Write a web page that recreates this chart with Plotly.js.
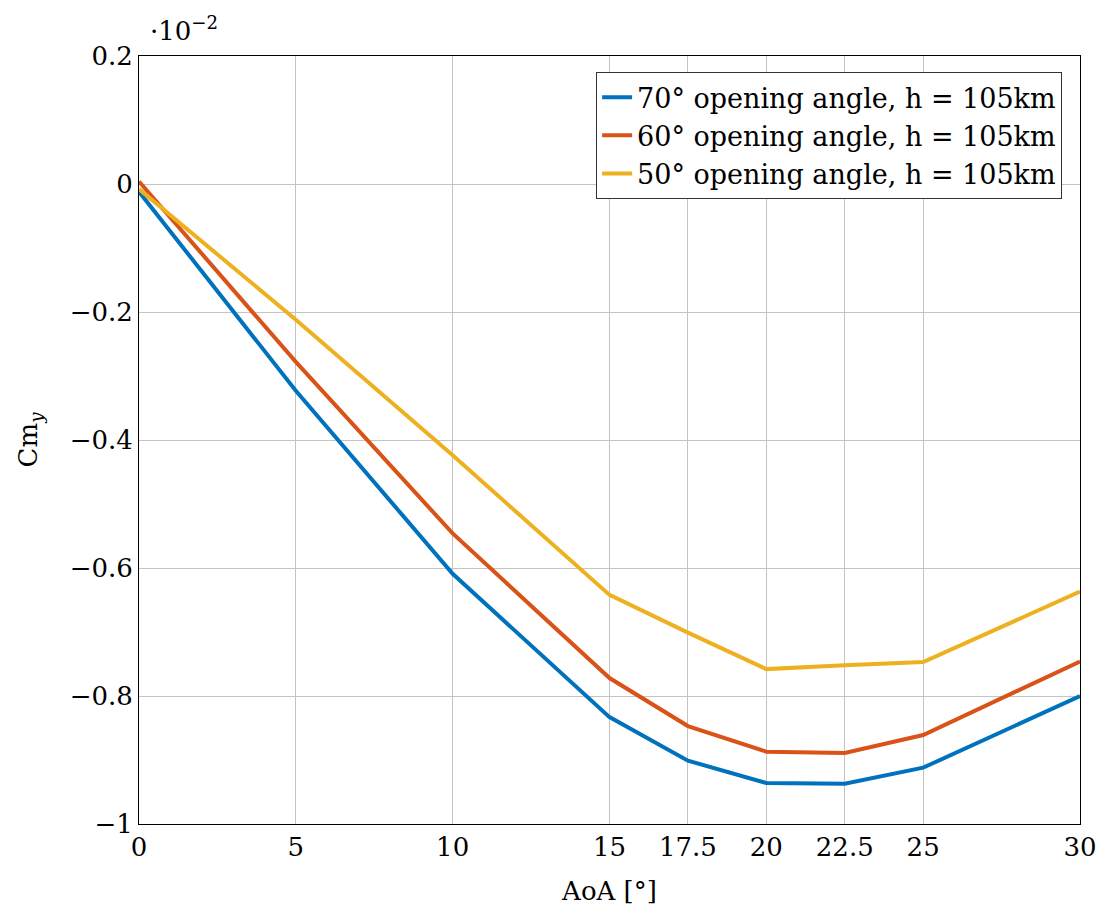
<!DOCTYPE html>
<html>
<head>
<meta charset="utf-8">
<script src="https://cdn.plot.ly/plotly-3.0.1.min.js"></script>
<style>html,body{margin:0;padding:0;background:#fff;}#chart{width:1109px;height:913px;}</style>
</head>
<body>
<div id="chart"></div>
<script>
const aoa = [0, 5, 10, 15, 17.5, 20, 22.5, 25, 30];
const cm70 = [-0.012, -0.323, -0.609, -0.833, -0.901, -0.936, -0.937, -0.912, -0.800];
const cm60 = [0.004, -0.278, -0.546, -0.772, -0.847, -0.887, -0.889, -0.861, -0.746];
const cm50 = [-0.008, -0.212, -0.424, -0.642, -0.701, -0.758, -0.752, -0.747, -0.637];
const seriesNames = ["70° opening angle, h = 105km", "60° opening angle, h = 105km", "50° opening angle, h = 105km"];
const colors = ["#0072BD", "#D95319", "#EDB120"];
const xTickVals = [0, 5, 10, 15, 17.5, 20, 22.5, 25, 30];
const xTickText = ["0", "5", "10", "15", "17.5", "20", "22.5", "25", "30"];
const yTickVals = [-1, -0.8, -0.6, -0.4, -0.2, 0, 0.2];
const yTickText = ["−1", "−0.8", "−0.6", "−0.4", "−0.2", "0", "0.2"];

const font = "'DejaVu Serif', serif";
const fs = 26;
const ys = [cm70, cm60, cm50];
const traces = ys.map((y, i) => ({
  x: aoa, y: y, type: "scatter", mode: "lines", name: seriesNames[i],
  line: {color: colors[i], width: 4}
}));

const layout = {
  width: 1109, height: 913,
  margin: {l: 139, r: 29, t: 56, b: 89},
  paper_bgcolor: "#fff", plot_bgcolor: "#fff",
  font: {family: font, size: fs, color: "#000"},
  showlegend: true,
  legend: {
    x: 0.981, y: 0.979, xanchor: "right", yanchor: "top",
    bgcolor: "#fff", bordercolor: "#333", borderwidth: 1,
    font: {family: font, size: 27, color: "#000"},
    tracegroupgap: 0
  },
  xaxis: {
    range: [0, 30], tickvals: xTickVals, ticktext: xTickText,
    showgrid: true, gridcolor: "#c4c4c4", gridwidth: 1,
    zeroline: false, showline: true, linecolor: "#000", linewidth: 1, mirror: true,
    ticks: "", tickfont: {family: font, size: fs},
    title: {text: "AoA [°]", font: {family: font, size: fs}, standoff: 20}
  },
  yaxis: {
    range: [-1, 0.2], tickvals: yTickVals, ticktext: yTickText,
    showgrid: true, gridcolor: "#c4c4c4", gridwidth: 1,
    zeroline: false, showline: true, linecolor: "#000", linewidth: 1, mirror: true,
    ticks: "", tickfont: {family: font, size: fs},
    title: {text: "Cm<sub><i>y</i></sub>", font: {family: font, size: fs}, standoff: 24}
  },
  annotations: [{
    xref: "paper", yref: "paper", x: 0.01, y: 1.0, xanchor: "left", yanchor: "bottom",
    yshift: 8, text: "·10<sup>−2</sup>", showarrow: false,
    font: {family: font, size: fs, color: "#000"}
  }]
};

Plotly.newPlot("chart", traces, layout, {displayModeBar: false, staticPlot: true});
</script>
</body>
</html>
